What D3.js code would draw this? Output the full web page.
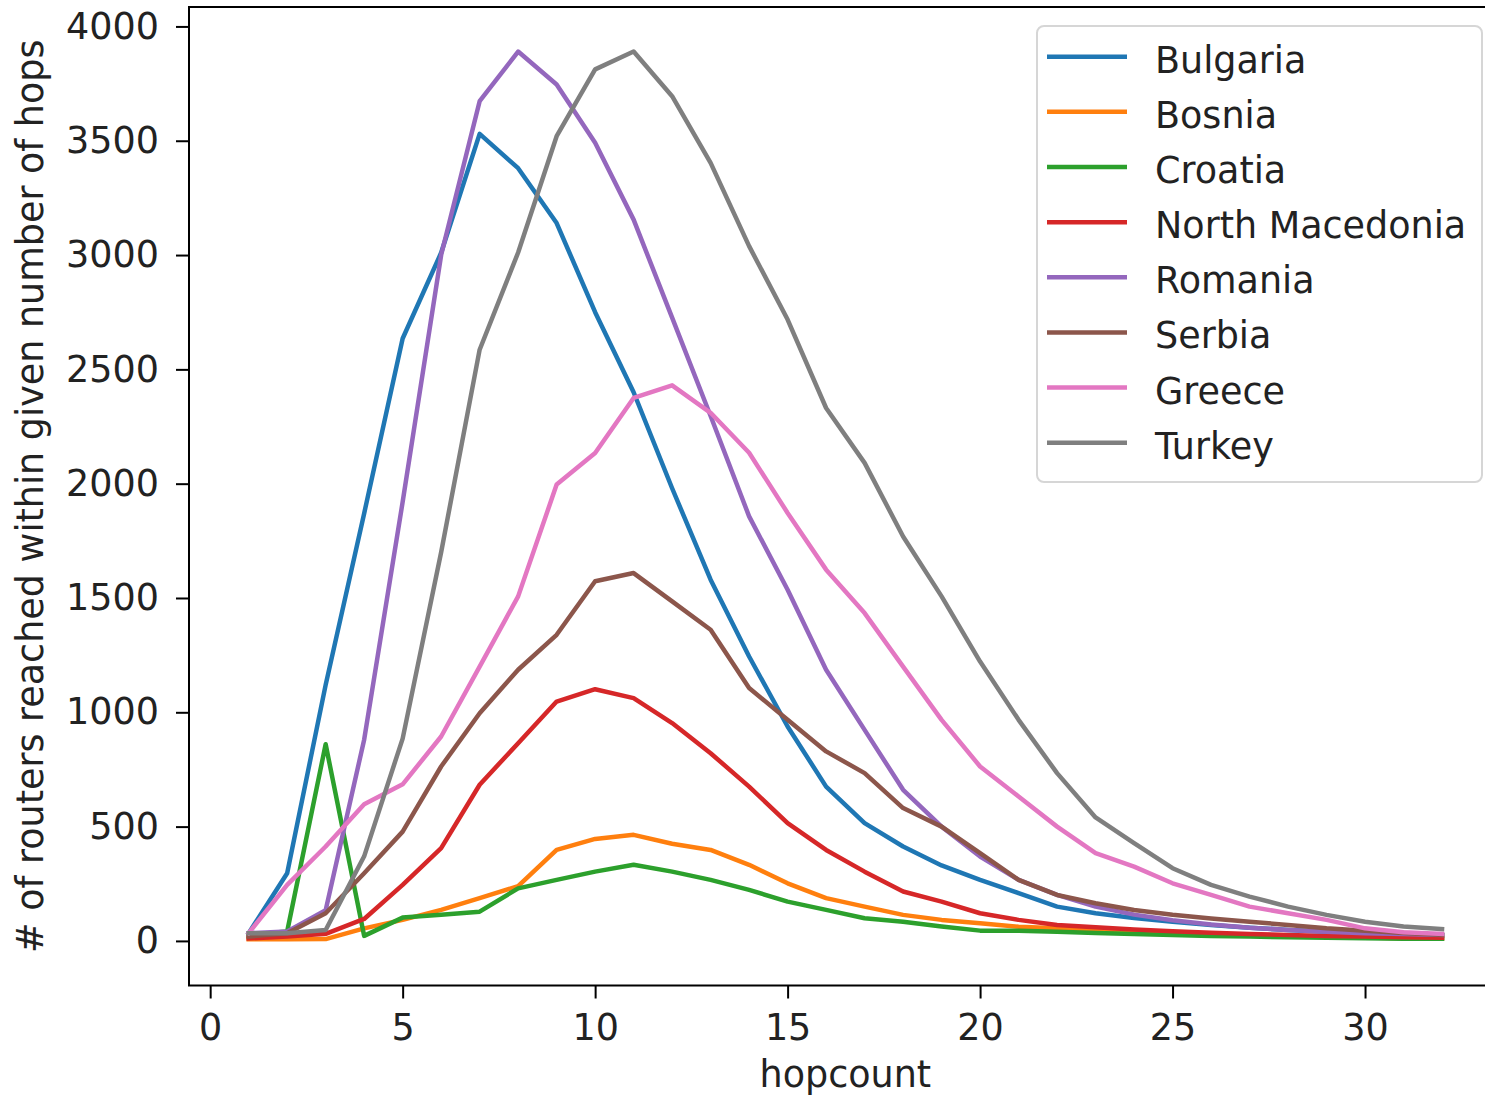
<!DOCTYPE html>
<html>
<head>
<meta charset="utf-8">
<script src="https://cdn.jsdelivr.net/npm/d3@7"></script>
<style>
  body { margin: 0; background: #fff; }
  svg { display: block; font-family: "DejaVu Sans", sans-serif; }
</style>
</head>
<body>
<svg id="chart" width="1485" height="1101"></svg>
<script>
// hop counts 1..32
const hops = d3.range(1, 33);

const countries = ["Bulgaria", "Bosnia", "Croatia", "North Macedonia", "Romania", "Serbia", "Greece", "Turkey"];
const colors = ["#1f77b4", "#ff7f0e", "#2ca02c", "#d62728", "#9467bd", "#8c564b", "#e377c2", "#7f7f7f"];

const bulgaria = [34, 296, 1120, 1870, 2635, 3010, 3530, 3380, 3140, 2750, 2400, 1980, 1580, 1244, 938, 675,
  515, 413, 330, 267, 209, 150, 121, 100, 84, 70, 58, 48, 40, 34, 28, 24];
const bosnia = [7, 7, 8, 55, 92, 136, 187, 240, 398, 446, 464, 425, 398, 333, 252, 187,
  150, 114, 92, 77, 62, 55, 50, 42, 36, 30, 25, 21, 18, 15, 12, 10];
const croatia = [26, 41, 860, 22, 102, 114, 128, 230, 267, 303, 333, 303, 267, 223, 172, 136,
  99, 84, 63, 45, 45, 40, 35, 30, 26, 22, 19, 16, 14, 12, 10, 9];
const northMacedonia = [11, 19, 31, 96, 245, 406, 683, 865, 1047, 1101, 1062, 953, 821, 675, 515, 398,
  303, 216, 172, 121, 92, 70, 60, 50, 42, 36, 30, 26, 22, 19, 16, 14];
const romania = [34, 41, 134, 880, 1920, 3000, 3673, 3890, 3746, 3491, 3155, 2726, 2296, 1857, 1536, 1186,
  923, 661, 500, 369, 267, 201, 150, 115, 90, 72, 58, 48, 40, 34, 30, 26];
const serbia = [19, 34, 121, 296, 478, 763, 996, 1186, 1339, 1573, 1609, 1485, 1361, 1106, 967, 829,
  734, 581, 500, 384, 267, 201, 165, 135, 114, 98, 84, 70, 55, 45, 35, 26];
const greece = [34, 245, 413, 598, 685, 894, 1200, 1507, 1996, 2134, 2375, 2430, 2310, 2135, 1872, 1624,
  1434, 1200, 967, 763, 632, 500, 384, 325, 252, 201, 150, 121, 92, 55, 38, 31];
const turkey = [34, 34, 48, 370, 885, 1700, 2586, 3011, 3520, 3812, 3890, 3695, 3403, 3039, 2718, 2331,
  2091, 1769, 1507, 1222, 967, 734, 540, 428, 318, 245, 194, 150, 114, 84, 63, 52];

const seriesValues = [bulgaria, bosnia, croatia, northMacedonia, romania, serbia, greece, turkey];

const xTicks = [0, 5, 10, 15, 20, 25, 30];
const yTicks = [0, 500, 1000, 1500, 2000, 2500, 3000, 3500, 4000];

const svg = d3.select("#chart");
const fontSize = 36.5;
const lineWidth = 4.5;

const plot = { left: 189, right: 1501.7, top: 7, bottom: 985.5 };

const xScale = d3.scaleLinear().domain([-0.55, 33.55]).range([plot.left, plot.right]);
const yScale = d3.scaleLinear().domain([-195, 4085]).range([plot.bottom, plot.top]);

svg.append("rect")
  .attr("width", 1485)
  .attr("height", 1101)
  .attr("fill", "#fff");

// lines
const line = d3.line()
  .x((d, i) => xScale(hops[i]))
  .y(d => yScale(d));

svg.append("g")
  .selectAll("path")
  .data(seriesValues)
  .join("path")
  .attr("fill", "none")
  .attr("stroke", (d, i) => colors[i])
  .attr("stroke-width", lineWidth)
  .attr("stroke-linejoin", "round")
  .attr("stroke-linecap", "square")
  .attr("d", line);

// axes
const xAxis = svg.append("g")
  .attr("transform", "translate(0," + plot.bottom + ")")
  .call(d3.axisBottom(xScale).tickValues(xTicks).tickFormat(d3.format("d"))
    .tickSize(13).tickPadding(16).tickSizeOuter(0));

const yAxis = svg.append("g")
  .attr("transform", "translate(" + plot.left + ",0)")
  .call(d3.axisLeft(yScale).tickValues(yTicks).tickFormat(d3.format("d"))
    .tickSize(13).tickPadding(17).tickSizeOuter(0));

[xAxis, yAxis].forEach(ax => {
  ax.select(".domain").remove();
  ax.selectAll("line").attr("stroke", "#000").attr("stroke-width", 2);
  ax.selectAll("text")
    .attr("fill", "#222")
    .style("font-size", fontSize + "px")
    .style("font-family", "DejaVu Sans");
});

// frame
svg.append("rect")
  .attr("x", plot.left)
  .attr("y", plot.top)
  .attr("width", plot.right - plot.left)
  .attr("height", plot.bottom - plot.top)
  .attr("fill", "none")
  .attr("stroke", "#000")
  .attr("stroke-width", 2);

// axis labels
svg.append("text")
  .attr("x", (plot.left + plot.right) / 2)
  .attr("y", 1087)
  .attr("text-anchor", "middle")
  .attr("fill", "#222")
  .style("font-size", fontSize + "px")
  .text("hopcount");

svg.append("text")
  .attr("transform", "translate(43," + (plot.top + plot.bottom) / 2 + ") rotate(-90)")
  .attr("text-anchor", "middle")
  .attr("fill", "#222")
  .style("font-size", fontSize + "px")
  .text("# of routers reached within given number of hops");

// legend
const legend = svg.append("g");

legend.append("rect")
  .attr("x", 1037)
  .attr("y", 26)
  .attr("width", 445)
  .attr("height", 456)
  .attr("rx", 7)
  .attr("fill", "#fff")
  .attr("fill-opacity", 0.8)
  .attr("stroke", "#d6d6d6")
  .attr("stroke-width", 2);

const rows = legend.selectAll("g.row")
  .data(countries)
  .join("g")
  .attr("class", "row")
  .attr("transform", (d, i) => "translate(0," + (56.7 + i * 55.15) + ")");

rows.append("line")
  .attr("x1", 1047)
  .attr("x2", 1127)
  .attr("stroke", (d, i) => colors[i])
  .attr("stroke-width", lineWidth);

rows.append("text")
  .attr("x", 1155)
  .attr("y", 16)
  .attr("fill", "#222")
  .style("font-size", fontSize + "px")
  .text(d => d);
</script>
</body>
</html>
